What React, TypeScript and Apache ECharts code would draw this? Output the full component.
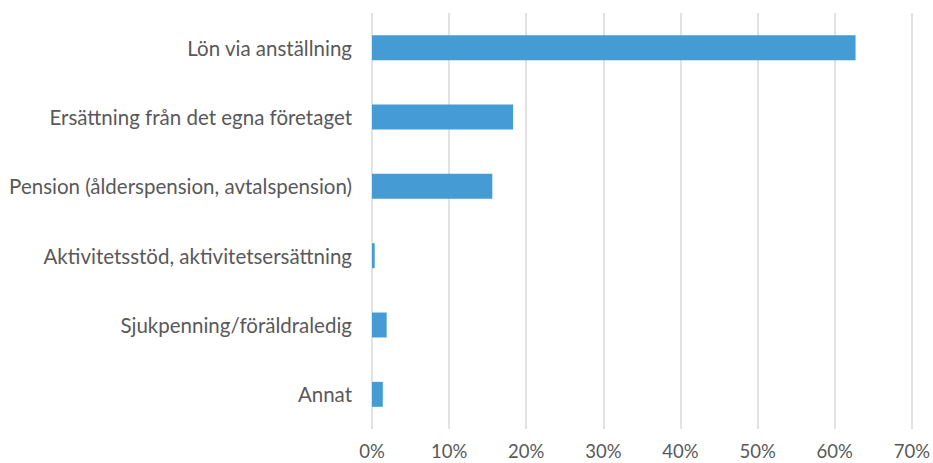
import React, { useEffect, useRef } from "react";
import * as echarts from "echarts";

const categories = [
  "Lön via anställning",
  "Ersättning från det egna företaget",
  "Pension (ålderspension, avtalspension)",
  "Aktivitetsstöd, aktivitetsersättning",
  "Sjukpenning/föräldraledig",
  "Annat",
];
const values = [62.7, 18.3, 15.6, 0.35, 1.9, 1.4];
const xTicks = [0, 10, 20, 30, 40, 50, 60, 70];

export default function App() {
  const ref = useRef<HTMLDivElement>(null);
  useEffect(() => {
    if (!ref.current) return;
    const chart = echarts.init(ref.current, undefined, { renderer: "svg" });
    chart.setOption({
      animation: false,
      grid: { left: 372, right: 21, top: 13, bottom: 34, containLabel: false },
      xAxis: {
        type: "value",
        min: xTicks[0],
        max: xTicks[xTicks.length - 1],
        interval: 10,
        axisLine: { show: false },
        axisTick: { show: false },
        axisLabel: {
          formatter: (v: number) => `${v}%`,
          color: "#595959",
          fontFamily: "Lato, 'Open Sans', sans-serif",
          fontSize: 18.5,
          margin: 12,
        },
        splitLine: { show: true, lineStyle: { color: "#d9d9d9", width: 1.5 } },
      },
      yAxis: {
        type: "category",
        data: categories,
        inverse: true,
        axisLine: { show: false },
        axisTick: { show: false },
        axisLabel: {
          color: "#595959",
          fontFamily: "Lato, 'Open Sans', sans-serif",
          fontSize: 20.5,
          margin: 20,
        },
      },
      series: [
        {
          type: "bar",
          data: values,
          barWidth: "36%",
          itemStyle: { color: "#459bd4" },
        },
      ],
    });
    return () => chart.dispose();
  }, []);
  return (
    <div
      ref={ref}
      style={{ position: "fixed", left: 0, top: 0, width: 933, height: 463, background: "#fff" }}
    />
  );
}
